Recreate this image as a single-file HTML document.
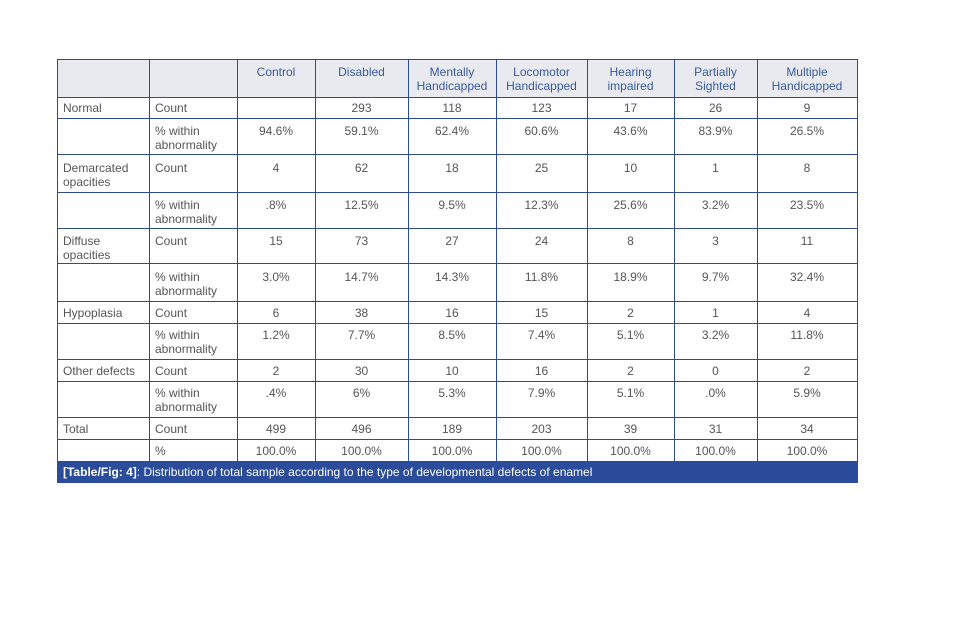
<!DOCTYPE html>
<html>
<head>
<meta charset="utf-8">
<style>
html,body{margin:0;padding:0;background:#fff;}
body{width:962px;height:643px;position:relative;overflow:hidden;font-family:"Liberation Sans",Arial,sans-serif;}
.hdr{position:absolute;left:57px;top:59px;width:800px;height:38px;background:#e8eaf0;}
.r{position:absolute;left:0;width:962px;height:20px;}
.r>div{position:absolute;top:0;font-size:12px;line-height:14px;color:#555;text-align:center;padding-top:5px;box-sizing:border-box;white-space:nowrap;}
.r>div:nth-child(1){left:57px;width:92px;text-align:left;padding-left:6px;}
.r>div:nth-child(2){left:149px;width:88px;text-align:left;padding-left:6px;}
.r>div:nth-child(3){left:237px;width:78px;}
.r>div:nth-child(4){left:315px;width:93px;}
.r>div:nth-child(5){left:408px;width:88px;}
.r>div:nth-child(6){left:496px;width:91px;}
.r>div:nth-child(7){left:587px;width:87px;}
.r>div:nth-child(8){left:674px;width:83px;}
.r>div:nth-child(9){left:757px;width:100px;}
.h>div{color:#3a5a9c;padding-top:6px;}
.v{position:absolute;top:59px;width:1px;height:402px;background:#2d4b8e;}
.hl{position:absolute;left:57px;width:801px;height:1px;background:#2d4b8e;}
.cap{position:absolute;left:57px;top:461px;width:801px;height:22px;background:#2a4c9a;color:#fff;font-size:12px;line-height:22px;padding-left:6px;box-sizing:border-box;white-space:nowrap;}
.cap b{font-weight:bold;}
</style>
</head>
<body>
<div class="hdr"></div>

<div class="r h" style="top:59px">
<div></div><div></div>
<div>Control</div>
<div>Disabled</div>
<div>Mentally<br>Handicapped</div>
<div>Locomotor<br>Handicapped</div>
<div>Hearing<br>impaired</div>
<div>Partially<br>Sighted</div>
<div>Multiple<br>Handicapped</div>
</div>

<div class="r" style="top:96px"><div>Normal</div><div>Count</div><div></div><div>293</div><div>118</div><div>123</div><div>17</div><div>26</div><div>9</div></div>
<div class="r" style="top:119px"><div></div><div>% within<br>abnormality</div><div>94.6%</div><div>59.1%</div><div>62.4%</div><div>60.6%</div><div>43.6%</div><div>83.9%</div><div>26.5%</div></div>
<div class="r" style="top:156px"><div>Demarcated<br>opacities</div><div>Count</div><div>4</div><div>62</div><div>18</div><div>25</div><div>10</div><div>1</div><div>8</div></div>
<div class="r" style="top:193px"><div></div><div>% within<br>abnormality</div><div>.8%</div><div>12.5%</div><div>9.5%</div><div>12.3%</div><div>25.6%</div><div>3.2%</div><div>23.5%</div></div>
<div class="r" style="top:229px"><div>Diffuse<br>opacities</div><div>Count</div><div>15</div><div>73</div><div>27</div><div>24</div><div>8</div><div>3</div><div>11</div></div>
<div class="r" style="top:265px"><div></div><div>% within<br>abnormality</div><div>3.0%</div><div>14.7%</div><div>14.3%</div><div>11.8%</div><div>18.9%</div><div>9.7%</div><div>32.4%</div></div>
<div class="r" style="top:301px"><div>Hypoplasia</div><div>Count</div><div>6</div><div>38</div><div>16</div><div>15</div><div>2</div><div>1</div><div>4</div></div>
<div class="r" style="top:323px"><div></div><div>% within<br>abnormality</div><div>1.2%</div><div>7.7%</div><div>8.5%</div><div>7.4%</div><div>5.1%</div><div>3.2%</div><div>11.8%</div></div>
<div class="r" style="top:359px"><div>Other defects</div><div>Count</div><div>2</div><div>30</div><div>10</div><div>16</div><div>2</div><div>0</div><div>2</div></div>
<div class="r" style="top:381px"><div></div><div>% within<br>abnormality</div><div>.4%</div><div>6%</div><div>5.3%</div><div>7.9%</div><div>5.1%</div><div>.0%</div><div>5.9%</div></div>
<div class="r" style="top:417px"><div>Total</div><div>Count</div><div>499</div><div>496</div><div>189</div><div>203</div><div>39</div><div>31</div><div>34</div></div>
<div class="r" style="top:439px"><div></div><div>%</div><div>100.0%</div><div>100.0%</div><div>100.0%</div><div>100.0%</div><div>100.0%</div><div>100.0%</div><div>100.0%</div></div>

<!-- vertical lines -->
<div class="v" style="left:57px"></div>
<div class="v" style="left:149px"></div>
<div class="v" style="left:237px"></div>
<div class="v" style="left:315px"></div>
<div class="v" style="left:408px"></div>
<div class="v" style="left:496px"></div>
<div class="v" style="left:587px"></div>
<div class="v" style="left:674px"></div>
<div class="v" style="left:757px"></div>
<div class="v" style="left:857px"></div>

<!-- horizontal lines -->
<div class="hl" style="top:59px"></div>
<div class="hl" style="top:97px"></div>
<div class="hl" style="top:118px"></div>
<div class="hl" style="top:154px"></div>
<div class="hl" style="top:192px"></div>
<div class="hl" style="top:228px"></div>
<div class="hl" style="top:263px"></div>
<div class="hl" style="top:301px"></div>
<div class="hl" style="top:323px"></div>
<div class="hl" style="top:359px"></div>
<div class="hl" style="top:381px"></div>
<div class="hl" style="top:417px"></div>
<div class="hl" style="top:439px"></div>

<div class="cap"><b>[Table/Fig: 4]</b>: Distribution of total sample according to the type of developmental defects of enamel</div>
</body>
</html>
